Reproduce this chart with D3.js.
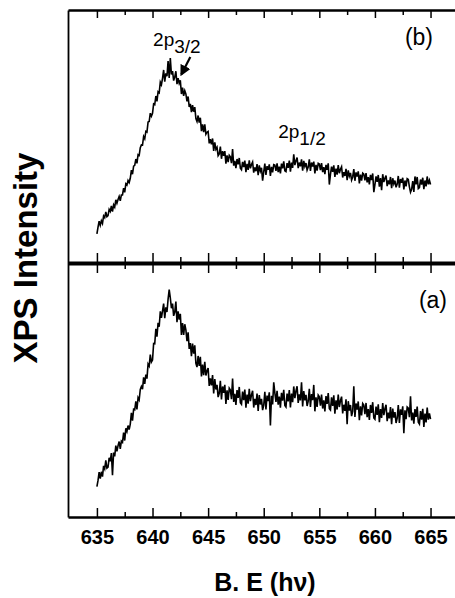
<!DOCTYPE html>
<html>
<head>
<meta charset="utf-8">
<script src="https://cdn.jsdelivr.net/npm/d3@7"></script>
<style>
  body { margin: 0; background: #fff; }
  svg { display: block; font-family: "Liberation Sans", Arial, Helvetica, sans-serif; }
</style>
</head>
<body>
<script>
// binding energy grid of the scans (eV)
var energyStart = 635;
var energyStep = 0.1;

// (b) upper panel, arbitrary units, one row per eV
var intensityB = [
  11.5, 14.2, 16.5, 14.9, 16.7, 15.6, 18.6, 17.9, 20.2, 18.3,
  18.7, 21.2, 20.4, 22.6, 20.3, 23.0, 22.1, 25.0, 23.6, 25.1,
  26.3, 24.6, 26.9, 26.9, 29.6, 27.9, 31.3, 30.8, 32.6, 31.8,
  33.5, 36.7, 35.1, 38.3, 38.6, 41.1, 39.4, 42.8, 42.5, 45.6,
  46.7, 46.6, 50.0, 49.1, 52.0, 51.7, 55.7, 55.9, 59.2, 58.0,
  59.2, 62.9, 62.6, 66.0, 63.9, 67.7, 67.3, 71.5, 70.5, 73.0,
  76.3, 71.7, 75.0, 73.8, 79.8, 73.1, 81.0, 74.5, 75.9, 72.1,
  73.5, 75.8, 70.7, 73.1, 71.0, 72.2, 66.8, 69.3, 66.1, 68.1,
  66.8, 63.9, 65.8, 61.7, 62.9, 59.6, 62.4, 59.8, 61.6, 57.1,
  55.9, 58.3, 55.5, 57.4, 52.1, 54.8, 51.7, 54.8, 50.9, 51.7,
  52.0, 47.3, 48.9, 46.9, 49.2, 44.3, 47.7, 44.9, 45.7, 42.4,
  43.1, 46.0, 41.2, 44.2, 42.4, 44.2, 39.3, 42.5, 39.9, 42.6,
  42.0, 39.5, 45.0, 38.5, 40.4, 37.5, 41.1, 39.0, 41.5, 37.5,
  36.9, 40.0, 37.9, 40.5, 35.9, 39.2, 36.8, 40.6, 37.4, 38.9,
  39.9, 35.7, 37.8, 36.3, 39.1, 34.7, 38.6, 36.3, 37.6, 32.5,
  36.0, 39.3, 34.8, 38.3, 36.8, 39.0, 34.4, 38.0, 35.8, 38.9,
  38.7, 36.4, 39.4, 35.9, 38.1, 35.4, 39.3, 37.4, 40.2, 36.4,
  36.1, 39.5, 37.6, 40.5, 36.1, 39.7, 37.6, 43.0, 38.7, 40.4,
  41.7, 37.5, 39.7, 38.2, 41.0, 36.5, 40.4, 38.2, 39.5, 36.7,
  37.9, 41.0, 36.4, 39.7, 38.1, 40.1, 35.4, 38.8, 36.5, 39.4,
  39.1, 36.7, 39.5, 35.9, 37.9, 35.1, 38.8, 36.8, 39.4, 31.0,
  35.0, 38.1, 36.0, 38.6, 34.0, 37.3, 34.9, 38.7, 35.5, 37.0,
  38.0, 33.8, 35.9, 34.4, 37.2, 32.7, 36.6, 34.3, 35.6, 32.8,
  34.0, 37.1, 32.5, 35.8, 34.2, 36.2, 31.5, 34.9, 32.6, 35.5,
  35.1, 32.7, 35.5, 31.9, 33.9, 31.1, 34.8, 32.8, 35.4, 28.0,
  31.0, 34.2, 32.1, 34.8, 30.2, 33.6, 28.8, 35.1, 32.0, 33.5,
  34.6, 30.4, 32.6, 31.1, 34.0, 29.6, 33.5, 31.3, 32.6, 29.9,
  31.2, 34.4, 29.8, 33.2, 31.7, 33.7, 29.1, 32.6, 30.3, 33.3,
  33.0, 30.1, 28.0, 29.1, 32.4, 28.1, 34.2, 31.1, 34.0, 29.4,
  29.8, 33.0, 31.0, 33.7, 29.2, 32.6, 30.3, 34.2, 31.1, 32.7,
  31.0
];

// (a) lower panel, arbitrary units
var intensityA = [
  12.0, 14.4, 17.7, 15.1, 17.8, 15.9, 20.1, 19.0, 22.3, 19.2,
  19.6, 23.3, 22.0, 25.2, 16.5, 25.4, 23.9, 28.1, 25.8, 28.1,
  29.7, 26.8, 29.9, 29.4, 33.2, 30.1, 34.9, 33.7, 36.0, 34.4,
  36.6, 41.0, 37.9, 42.4, 42.2, 45.5, 42.4, 47.0, 46.1, 50.2,
  51.4, 50.3, 55.0, 52.4, 56.1, 54.5, 60.2, 59.4, 63.9, 61.0,
  61.8, 68.3, 68.2, 74.1, 71.0, 76.5, 74.9, 81.0, 78.4, 81.2,
  84.0, 78.3, 82.5, 80.7, 85.8, 89.5, 86.3, 82.2, 84.0, 79.2,
  80.7, 84.8, 76.7, 81.0, 77.7, 80.0, 71.7, 76.3, 71.7, 75.9,
  73.7, 69.2, 72.7, 66.2, 68.5, 63.3, 68.3, 64.3, 67.6, 60.5,
  59.0, 63.4, 59.5, 63.1, 55.3, 60.0, 55.8, 61.1, 55.7, 57.6,
  58.6, 51.6, 54.6, 51.8, 55.9, 48.6, 54.3, 50.2, 52.0, 47.2,
  48.7, 53.6, 46.3, 51.4, 48.9, 52.0, 44.5, 49.9, 46.1, 50.7,
  50.0, 46.4, 54.5, 45.3, 48.5, 44.1, 50.0, 46.9, 51.2, 45.0,
  44.4, 49.4, 46.0, 50.2, 43.0, 48.2, 44.6, 50.5, 45.6, 48.1,
  49.7, 43.1, 46.5, 44.1, 48.6, 41.8, 48.0, 44.3, 46.5, 42.1,
  44.0, 49.3, 42.3, 47.8, 45.6, 49.1, 36.0, 47.7, 44.3, 53.0,
  48.9, 45.3, 49.7, 44.2, 47.4, 43.0, 48.9, 45.8, 50.1, 43.9,
  43.3, 48.6, 45.5, 50.0, 43.1, 48.6, 45.2, 51.4, 46.8, 49.6,
  51.5, 44.9, 48.3, 45.9, 53.0, 43.5, 49.6, 45.9, 48.1, 43.7,
  45.6, 50.5, 43.3, 48.4, 46.0, 52.0, 41.6, 47.1, 43.3, 48.0,
  47.3, 43.8, 48.2, 42.7, 45.9, 41.6, 47.6, 44.5, 48.8, 42.6,
  42.1, 47.1, 43.7, 47.9, 40.7, 45.9, 42.3, 48.2, 43.3, 45.8,
  47.4, 40.8, 44.2, 41.8, 46.3, 36.5, 45.6, 41.9, 44.1, 39.7,
  41.6, 51.5, 39.4, 44.7, 42.3, 45.5, 38.1, 43.6, 40.0, 44.7,
  44.1, 40.5, 44.9, 39.3, 42.5, 38.2, 44.1, 41.0, 45.2, 39.0,
  38.5, 43.5, 40.2, 44.4, 37.3, 42.5, 39.0, 44.9, 40.1, 42.6,
  44.2, 37.7, 41.1, 38.8, 43.3, 36.5, 42.7, 39.1, 41.3, 37.0,
  38.9, 44.1, 37.0, 42.4, 40.2, 43.6, 33.0, 42.0, 38.5, 43.3,
  42.9, 39.3, 47.5, 38.0, 41.1, 36.7, 42.5, 39.4, 43.5, 37.3,
  36.6, 41.7, 38.3, 42.6, 35.5, 40.7, 37.2, 43.1, 38.3, 40.8,
  38.5
];

var majorTicks = [635, 640, 645, 650, 655, 660, 665];
var minorTicks = [637.5, 642.5, 647.5, 652.5, 657.5, 662.5];
var panelNames = ["(b)", "(a)"];

var width = 455, height = 598;

var svg = d3.select("body").append("svg")
    .attr("width", width)
    .attr("height", height);

var x = d3.scaleLinear().domain([632.4, 667.2]).range([68, 455]);
var yB = d3.scaleLinear().domain([0, 100]).range([263, 10]);
var yA = d3.scaleLinear().domain([0, 100]).range([517, 263]);
var yAll = d3.scaleLinear().domain([0, 1]).range([517, 10]);

function toPoints(values) {
  return values.map(function(v, i) {
    return { e: energyStart + i * energyStep, v: v };
  });
}

// ---- frame and ticks ----
function styleAxis(g, domainWidth) {
  g.select(".domain").attr("stroke", "#000").attr("stroke-width", domainWidth);
  g.selectAll(".tick line").attr("stroke", "#000").attr("stroke-width", 1.5);
}

function tickRow(yPos, values, size) {
  var g = svg.append("g").attr("transform", "translate(0," + yPos + ")");
  g.call(d3.axisBottom(x).tickValues(values).tickSizeInner(size).tickSizeOuter(0).tickFormat(""));
  g.select(".domain").remove();
  styleAxis(g, 0);
  return g;
}

// top edge, ticks inward
var topAxis = svg.append("g").attr("transform", "translate(0,10)");
topAxis.call(d3.axisBottom(x).tickValues(majorTicks).tickSizeInner(8).tickSizeOuter(0).tickFormat(""));
styleAxis(topAxis, 2.5);
tickRow(10, minorTicks, 5);

// shared middle line, ticks both sides
var midAxis = svg.append("g").attr("transform", "translate(0,263)");
midAxis.call(d3.axisBottom(x).tickValues(majorTicks).tickSizeInner(10).tickSizeOuter(0).tickFormat(""));
styleAxis(midAxis, 4);
tickRow(263, majorTicks, -10);
tickRow(263, minorTicks, 6);
tickRow(263, minorTicks, -6);

// bottom edge with labels
var bottomAxis = svg.append("g").attr("transform", "translate(0,517)");
bottomAxis.call(d3.axisBottom(x).tickValues(majorTicks).tickSizeInner(-9).tickSizeOuter(0).tickPadding(13));
styleAxis(bottomAxis, 2.5);
bottomAxis.selectAll(".tick text")
    .attr("fill", "#000")
    .style("font-family", "'Liberation Sans', Arial, sans-serif")
    .style("font-size", "20px")
    .style("font-weight", "bold");
tickRow(517, minorTicks, -5);

// left edge, no ticks
var leftAxis = svg.append("g").attr("transform", "translate(68,0)");
leftAxis.call(d3.axisLeft(yAll).tickValues([]).tickSizeOuter(0));
styleAxis(leftAxis, 1.8);

// ---- spectra ----
var lineB = d3.line().x(function(d) { return x(d.e); }).y(function(d) { return yB(d.v); });
var lineA = d3.line().x(function(d) { return x(d.e); }).y(function(d) { return yA(d.v); });

svg.append("path")
    .datum(toPoints(intensityB))
    .attr("d", lineB)
    .attr("fill", "none")
    .attr("stroke", "#000")
    .attr("stroke-width", 1.6);

svg.append("path")
    .datum(toPoints(intensityA))
    .attr("d", lineA)
    .attr("fill", "none")
    .attr("stroke", "#000")
    .attr("stroke-width", 1.6);

// ---- labels ----
svg.append("text")
    .attr("x", 433).attr("y", 45)
    .attr("text-anchor", "end")
    .style("font-size", "23px")
    .text(panelNames[0]);

svg.append("text")
    .attr("x", 447).attr("y", 308)
    .attr("text-anchor", "end")
    .style("font-size", "23px")
    .text(panelNames[1]);

function orbital(e, v, sub) {
  var t = svg.append("text")
      .attr("x", x(e)).attr("y", yB(v))
      .style("font-size", "19px");
  t.append("tspan").text("2p");
  t.append("tspan").attr("dy", 7).text(sub);
}
orbital(640.05, 85.8, "3/2");
orbital(651.3, 49.4, "1/2");

svg.append("defs").append("marker")
    .attr("id", "head")
    .attr("viewBox", "0 -5 10 10")
    .attr("refX", 8)
    .attr("refY", 0)
    .attr("markerWidth", 5)
    .attr("markerHeight", 5)
    .attr("orient", "auto")
    .append("path")
    .attr("d", "M0,-5L10,0L0,5Z")
    .attr("fill", "#000");

svg.append("line")
    .attr("x1", x(643.4)).attr("y1", yB(81.4))
    .attr("x2", x(642.6)).attr("y2", yB(74.6))
    .attr("stroke", "#000")
    .attr("stroke-width", 2.2)
    .attr("marker-end", "url(#head)");

svg.append("text")
    .attr("transform", "translate(37,258) rotate(-90)")
    .attr("text-anchor", "middle")
    .style("font-size", "33px")
    .style("font-weight", "bold")
    .text("XPS Intensity");

svg.append("text")
    .attr("x", 265).attr("y", 591)
    .attr("text-anchor", "middle")
    .style("font-size", "25px")
    .style("font-weight", "bold")
    .text("B. E (h\u03bd)");
</script>
</body>
</html>
